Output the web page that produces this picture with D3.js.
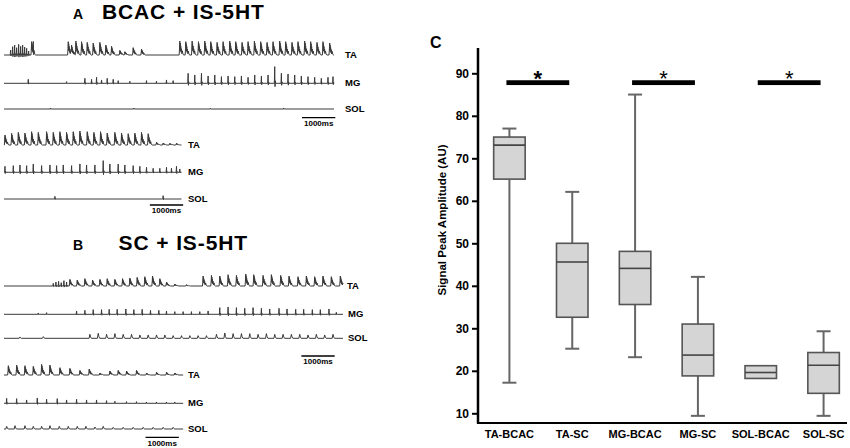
<!DOCTYPE html>
<html>
<head>
<meta charset="utf-8">
<script src="https://cdn.jsdelivr.net/npm/d3@7"></script>
<style>
  body { margin: 0; background: #fff; }
  svg { font-family: "Liberation Sans", Arial, sans-serif; }
  .tick text { font-weight: bold; }
</style>
</head>
<body>
<div id="fig"></div>
<script>
// ---- panel C data (box plot)
const categories = ["TA-BCAC", "TA-SC", "MG-BCAC", "MG-SC", "SOL-BCAC", "SOL-SC"];
const whiskerLow  = [17.2, 25.2, 23.2, 9.4, null, 9.4];
const q1          = [65.1, 32.6, 35.6, 18.8, 18.2, 14.7];
const median      = [73.1, 45.6, 44.1, 23.7, 19.6, 21.3];
const q3          = [75.0, 50.0, 48.1, 31.0, 21.2, 24.3];
const whiskerHigh = [77.0, 62.1, 85.0, 42.1, null, 29.3];
const yTicks = [10, 20, 30, 40, 50, 60, 70, 80, 90];
const sigPairs = [["TA-BCAC", "TA-SC"], ["MG-BCAC", "MG-SC"], ["SOL-BCAC", "SOL-SC"]];
const sigLevel = 87.8;

// ---- panels A/B: EMG events [time ms, amplitude AU]
// A: BCAC + IS-5HT, first sweep
const aTA1Bursts = [[830,40],[1930,40],[2030,28],[2160,42],[2330,40],[2500,38],[2680,36],[2880,38],[3060,30],[3230,26],[3480,14],[3630,10],[3880,22],[4130,18],
  [5280,42],[5460,40],[5650,42],[5840,40],[6030,42],[6210,40],[6400,38],[6580,40],[6780,42],[6960,40],[7150,38],[7330,40],[7520,42],[7710,40],[7900,38],[8080,40],[8280,42],[8460,40],[8650,38],[8830,40],[9030,42],[9210,40],[9400,38],[9580,40],[9780,36]];
const aTA1Spikes = [[200,15],[260,25],[320,30],[380,22],[440,32],[500,26],[560,30],[620,24],[680,20],[740,12],[880,25]];
const aMG1Spikes = [[730,12],[1880,5],[2430,15],[2630,12],[2780,18],[2930,10],[3100,15],[3280,12],[3430,8],[3780,6],[4280,8],[4580,6],[4880,10],[5080,8],
  [5530,30],[5730,25],[5930,30],[6130,22],[6330,25],[6530,20],[6730,22],[6930,20],[7130,22],[7330,18],[7530,25],[7730,22],[7930,25],[8130,50],[8330,30],[8530,28],[8730,25],[8930,22],[9130,20],[9330,18],[9530,15],[9730,18],[9880,20]];
const aSOL1Spikes = [[1400,3],[3900,3],[6200,2],[8400,3]];
// A: second sweep
const aTA2Bursts = [[30,30],[230,35],[430,38],[630,36],[830,40],[1030,38],[1280,40],[1480,38],[1680,40],[1880,38],[2080,40],[2280,42],[2500,40],[2700,38],[2900,40],[3100,36],[3330,38],[3530,36],[3730,34],[3930,36],[4130,38],[4330,34],[4580,8],[4780,6],[4980,5],[5180,5]];
const aMG2Spikes = [[30,18],[280,20],[480,22],[680,20],[880,25],[1130,20],[1380,22],[1580,20],[1780,22],[2030,20],[2280,25],[2480,22],[2730,22],[2980,35],[3180,25],[3430,25],[3630,22],[3880,20],[4080,18],[4280,15],[4480,12],[4680,12],[4880,15],[5030,12],[5180,18],[5280,10]];
const aSOL2Spikes = [[1530,8],[4780,10]];
// B: SC + IS-5HT, first sweep
const bTA1Bursts = [[1980,20],[2200,18],[2430,22],[2660,18],[2880,20],[3100,22],[3330,20],[3560,22],[3780,24],[4000,26],[4230,28],[4460,30],[4680,22],[4880,12],[5130,6],[5480,4],
  [5980,30],[6230,32],[6480,30],[6730,34],[6980,32],[7260,36],[7500,34],[7780,32],[8030,34],[8310,32],[8560,30],[8830,28],[9080,30],[9330,28],[9580,30],[9830,28],[10100,30]];
const bTA1Spikes = [[1480,8],[1560,12],[1640,14],[1720,10],[1800,16],[1880,12]];
const bMG1Spikes = [[1030,4],[1280,5],[2180,10],[2430,12],[2680,14],[2930,14],[3160,15],[3400,15],[3660,16],[3900,14],[4150,15],[4400,12],[4650,12],[4880,10],[5130,8],[5380,8],[5630,8],[5880,8],[6130,10],
  [6480,20],[6730,22],[6980,20],[7230,18],[7480,20],[7730,18],[7980,16],[8260,18],[8500,16],[8760,15],[9000,15],[9260,14],[9500,14],[9760,16],[9980,6]];
const bSOL1Bumps = [[480,4],[1180,5],[2580,12],[2830,15],[3080,12],[3330,14],[3580,12],[3830,12],[4080,10],[4330,10],[4580,10],[4830,10],[5080,8],[5330,8],[5580,8],[5830,8],[6080,8],
  [6380,12],[6630,16],[6880,14],[7130,14],[7380,14],[7630,12],[7880,14],[8130,12],[8380,12],[8630,12],[8880,12],[9130,10],[9380,12],[9630,10],[9880,12]];
// B: second sweep
const bTA2Bursts = [[130,28],[380,30],[630,28],[880,26],[1130,32],[1380,30],[1680,22],[1980,20],[2280,14],[2560,18],[2880,6],[3180,12],[3430,14],[3680,12],[3980,14],[4280,6],[4580,8],[4880,8],[5130,6]];
const bMG2Spikes = [[80,15],[380,14],[680,10],[1000,16],[1280,12],[1600,14],[1880,10],[2180,12],[2480,10],[2780,10],[3080,8],[3330,6],[3680,5],[3980,5],[4280,4],[4580,4],[4880,4],[5130,4]];
const bSOL2Bumps = [[80,8],[330,10],[630,10],[880,8],[1130,8],[1380,10],[1660,8],[1930,8],[2200,8],[2460,8],[2730,6],[2980,8],[3280,5],[3580,5],[3880,5],[4180,5],[4480,5],[4780,5],[5080,5]];

const scaleBarMs = 1000;

// ---- drawing
const W = 850, H = 448;
const svg = d3.select("#fig").append("svg").attr("width", W).attr("height", H);

// waveform templates (relative ms, fraction of amplitude)
const burstShape = [[-20,0],[-8,0.5],[0,1],[6,0.4],[12,0.85],[20,0.3],[28,0.65],[38,0.2],[48,0.45],[60,0.1],[75,0.3],[95,0.05],[120,0]];
const spikeShape = [[-12,0],[0,1],[8,-0.2],[18,0.15],[30,0]];
const bumpShape  = [[-25,0],[0,1],[20,0.35],[45,0]];

function shapeAt(shape, dt) {
  if (dt <= shape[0][0] || dt >= shape[shape.length - 1][0]) return 0;
  for (let i = 1; i < shape.length; i++) {
    if (dt <= shape[i][0]) {
      const a = shape[i - 1], b = shape[i];
      return a[1] + (b[1] - a[1]) * (dt - a[0]) / (b[0] - a[0]);
    }
  }
  return 0;
}

const tx = d3.scaleLinear().domain([0, 10000]).range([4, 337]);

function drawTrace(tr) {
  const ev = [];
  (tr.bursts || []).forEach(d => ev.push({ t: d[0], a: d[1], s: burstShape }));
  (tr.spikes || []).forEach(d => ev.push({ t: d[0], a: d[1], s: spikeShape }));
  (tr.bumps || []).forEach(d => ev.push({ t: d[0], a: d[1], s: bumpShape }));
  let times = [0, tr.end];
  ev.forEach(e => e.s.forEach(k => times.push(e.t + k[0])));
  times = Array.from(new Set(times)).filter(t => t >= 0 && t <= tr.end).sort((a, b) => a - b);
  const pts = times.map(t => [t, d3.sum(ev, e => e.a * shapeAt(e.s, t - e.t))]);
  const ty = d3.scaleLinear().domain([0, 45]).range([tr.base, tr.base - 15]);
  svg.append("path")
    .datum(pts)
    .attr("fill", "none")
    .attr("stroke", "#3a3a3a")
    .attr("stroke-width", 1)
    .attr("stroke-linejoin", "round")
    .attr("d", d3.line().x(d => tx(d[0])).y(d => ty(d[1])));
  svg.append("text")
    .attr("x", tr.lx).attr("y", tr.base + 3)
    .attr("font-size", 9.5).attr("font-weight", "bold")
    .text(tr.label);
}

function scaleBar(t0, y) {
  svg.append("line")
    .attr("x1", tx(t0)).attr("x2", tx(t0 + scaleBarMs))
    .attr("y1", y).attr("y2", y)
    .attr("stroke", "#000").attr("stroke-width", 1.3);
  svg.append("text")
    .attr("x", (tx(t0) + tx(t0 + scaleBarMs)) / 2).attr("y", y + 8.3)
    .attr("text-anchor", "middle")
    .attr("font-size", 8).attr("font-weight", "bold")
    .text(scaleBarMs + "ms");
}

const traces = [
  { label: "TA",  bursts: aTA1Bursts, spikes: aTA1Spikes, base: 55,    end: 9910, lx: 345 },
  { label: "MG",  spikes: aMG1Spikes,                     base: 83.3,  end: 9910, lx: 345 },
  { label: "SOL", spikes: aSOL1Spikes,                    base: 109,   end: 9910, lx: 345 },
  { label: "TA",  bursts: aTA2Bursts,                     base: 145,   end: 5330, lx: 188 },
  { label: "MG",  spikes: aMG2Spikes,                     base: 172.3, end: 5330, lx: 188 },
  { label: "SOL", spikes: aSOL2Spikes,                    base: 199,   end: 5330, lx: 188 },
  { label: "TA",  bursts: bTA1Bursts, spikes: bTA1Spikes, base: 286,   end: 10180, lx: 347 },
  { label: "MG",  spikes: bMG1Spikes,                     base: 314.3, end: 10180, lx: 348 },
  { label: "SOL", bumps: bSOL1Bumps,                      base: 338.3, end: 10180, lx: 348 },
  { label: "TA",  bursts: bTA2Bursts,                     base: 375,   end: 5380, lx: 188 },
  { label: "MG",  spikes: bMG2Spikes,                     base: 403.3, end: 5380, lx: 188 },
  { label: "SOL", bumps: bSOL2Bumps,                      base: 429,   end: 5380, lx: 188 }
];
traces.forEach(drawTrace);

scaleBar(8950, 117.7);
scaleBar(4380, 205);
scaleBar(8930, 356);
scaleBar(4250, 437.3);

// titles A / B
svg.append("text").attr("x", 73).attr("y", 19).attr("font-size", 14).attr("font-weight", "bold").text("A");
svg.append("text").attr("x", 183.3).attr("y", 19).attr("text-anchor", "middle")
  .attr("font-size", 21).attr("font-weight", "bold").attr("letter-spacing", 0.9).text("BCAC + IS-5HT");
svg.append("text").attr("x", 73).attr("y", 250).attr("font-size", 14).attr("font-weight", "bold").text("B");
svg.append("text").attr("x", 183.3).attr("y", 250).attr("text-anchor", "middle")
  .attr("font-size", 21).attr("font-weight", "bold").attr("letter-spacing", 0.9).text("SC + IS-5HT");

// ---- panel C
const x = d3.scaleBand().domain(categories).range([478, 855]);
const y = d3.scaleLinear().domain([10, 90]).range([413.3, 73.3]);
const cx = c => x(c) + x.bandwidth() / 2;
const boxW = 31.5, capW = 14;

svg.append("text").attr("x", 430).attr("y", 48).attr("font-size", 16).attr("font-weight", "bold").text("C");

const yAxis = svg.append("g")
  .attr("transform", "translate(478,0)")
  .call(d3.axisLeft(y).tickValues(yTicks).tickSize(6).tickPadding(3));
yAxis.attr("font-family", null).attr("font-size", null);
yAxis.select(".domain").remove();
yAxis.selectAll(".tick line").attr("stroke", "#000").attr("stroke-width", 2);
yAxis.selectAll(".tick text").attr("font-size", 12).attr("font-weight", "bold").attr("fill", "#000");

svg.append("line").attr("x1", 478).attr("x2", 478).attr("y1", 48).attr("y2", 423.5)
  .attr("stroke", "#000").attr("stroke-width", 2.5);

const xAxis = svg.append("g")
  .attr("transform", "translate(0,423)")
  .call(d3.axisBottom(x).tickSize(0).tickPadding(7));
xAxis.attr("font-family", null).attr("font-size", null);
xAxis.select(".domain").remove();
xAxis.selectAll(".tick text").attr("font-size", 11).attr("font-weight", "bold").attr("fill", "#000");
svg.append("line").attr("x1", 477).attr("x2", 847).attr("y1", 423).attr("y2", 423)
  .attr("stroke", "#000").attr("stroke-width", 2.2);

svg.append("text")
  .attr("transform", "translate(445.5,220) rotate(-90)")
  .attr("text-anchor", "middle")
  .attr("font-size", 11.5).attr("font-weight", "bold")
  .text("Signal Peak Amplitude (AU)");

const boxes = categories.map((c, i) => ({ c, lo: whiskerLow[i], q1: q1[i], med: median[i], q3: q3[i], hi: whiskerHigh[i] }));
const g = svg.append("g");
boxes.forEach(b => {
  const xc = cx(b.c);
  if (b.hi != null) {
    g.append("line").attr("x1", xc).attr("x2", xc).attr("y1", y(b.q3)).attr("y2", y(b.hi)).attr("stroke", "#666").attr("stroke-width", 2);
    g.append("line").attr("x1", xc - capW / 2).attr("x2", xc + capW / 2).attr("y1", y(b.hi)).attr("y2", y(b.hi)).attr("stroke", "#666").attr("stroke-width", 2);
  }
  if (b.lo != null) {
    g.append("line").attr("x1", xc).attr("x2", xc).attr("y1", y(b.q1)).attr("y2", y(b.lo)).attr("stroke", "#666").attr("stroke-width", 2);
    g.append("line").attr("x1", xc - capW / 2).attr("x2", xc + capW / 2).attr("y1", y(b.lo)).attr("y2", y(b.lo)).attr("stroke", "#666").attr("stroke-width", 2);
  }
  g.append("rect").attr("x", xc - boxW / 2).attr("width", boxW)
    .attr("y", y(b.q3)).attr("height", y(b.q1) - y(b.q3))
    .attr("fill", "#d5d5d5").attr("stroke", "#555").attr("stroke-width", 1.6);
  g.append("line").attr("x1", xc - boxW / 2).attr("x2", xc + boxW / 2).attr("y1", y(b.med)).attr("y2", y(b.med))
    .attr("stroke", "#444").attr("stroke-width", 1.6);
});

sigPairs.forEach((p, i) => {
  const x1 = cx(p[0]) - 3, x2 = cx(p[1]) - 3;
  svg.append("rect").attr("x", x1).attr("width", x2 - x1)
    .attr("y", y(sigLevel) - 2.4).attr("height", 4.8).attr("fill", "#000");
  svg.append("text").attr("x", (x1 + x2) / 2).attr("y", y(sigLevel) + 3)
    .attr("text-anchor", "middle").attr("font-size", 22)
    .attr("font-weight", i === 0 ? "bold" : "normal")
    .text("*");
});
</script>
</body>
</html>
